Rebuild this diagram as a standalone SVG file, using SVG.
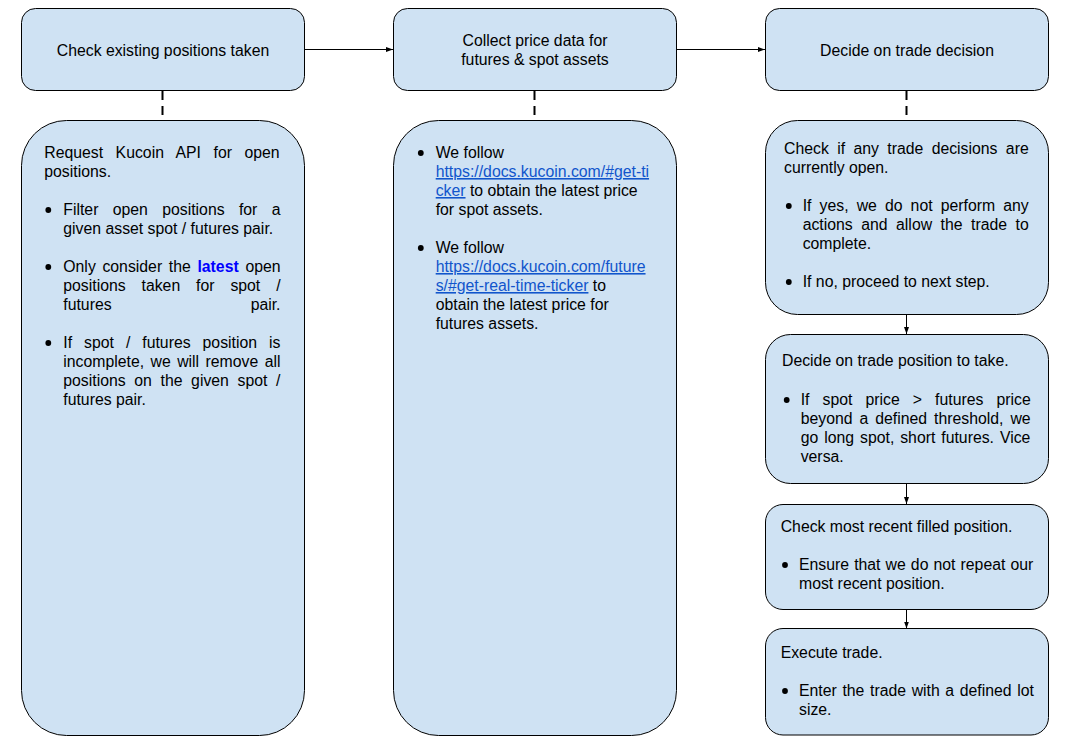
<svg xmlns="http://www.w3.org/2000/svg" width="1087" height="750" viewBox="0 0 1087 750">
<style>
.box{fill:#cfe2f3;stroke:#000;stroke-width:1}
text{font-family:"Liberation Sans",Arial,sans-serif;font-size:15.8px;fill:#000}
.c{text-anchor:middle}
.e{text-anchor:end}
.lk{fill:#1155cc;text-decoration:underline}
.b{font-weight:bold;fill:#0000ff}
.conn{stroke:#000;stroke-width:1;fill:none}
.dash{stroke:#000;stroke-width:2;stroke-dasharray:9 6;fill:none}
.bul{fill:#000}
</style>
<defs>
<marker id="ah" markerUnits="userSpaceOnUse" markerWidth="8" markerHeight="6" refX="7" refY="3" orient="auto">
<path d="M0,0.5 L7,3 L0,5.5 z" fill="#000"/>
</marker>
</defs>
<rect width="1087" height="750" fill="#fff"/>
<g id="connectors">
<line class="conn" x1="304.5" y1="49.5" x2="393" y2="49.5" marker-end="url(#ah)"/>
<line class="conn" x1="676.5" y1="49.5" x2="765" y2="49.5" marker-end="url(#ah)"/>
<line class="dash" x1="162.5" y1="91" x2="162.5" y2="120"/>
<line class="dash" x1="534.5" y1="91" x2="534.5" y2="120"/>
<line class="dash" x1="906.5" y1="91" x2="906.5" y2="120"/>
<line class="conn" x1="906.5" y1="314.5" x2="906.5" y2="334" marker-end="url(#ah)"/>
<line class="conn" x1="906.5" y1="483.5" x2="906.5" y2="504" marker-end="url(#ah)"/>
<line class="conn" x1="906.5" y1="609.5" x2="906.5" y2="628.5" marker-end="url(#ah)"/>
</g>
<g id="n-check-positions">
<rect class="box" x="21.5" y="8.5" width="283" height="82" rx="14"/>
<text class="c" x="163" y="55.5">Check existing positions taken</text>
</g>
<g id="n-collect-price">
<rect class="box" x="393.5" y="8.5" width="283" height="82" rx="14"/>
<text class="c" x="535" y="45.5">Collect price data for</text>
<text class="c" x="535" y="64.5">futures &amp; spot assets</text>
</g>
<g id="n-decide-trade">
<rect class="box" x="765.5" y="8.5" width="283" height="82" rx="14"/>
<text class="c" x="907" y="55.5">Decide on trade decision</text>
</g>
<g id="n-positions-detail">
<rect class="box" x="21.5" y="120.5" width="283" height="615" rx="45"/>
<text x="44.3" y="158" word-spacing="8.1">Request Kucoin API for open</text>
<text x="44.3" y="177">positions.</text>
<circle class="bul" cx="48.3" cy="210" r="2.9"/>
<text x="63.3" y="215" word-spacing="9.95">Filter open positions for a</text>
<text x="63.3" y="234">given asset spot / futures pair.</text>
<circle class="bul" cx="48.3" cy="267" r="2.9"/>
<text x="63.3" y="272" word-spacing="2.27">Only consider the <tspan class="b">latest</tspan> open</text>
<text x="63.3" y="291" word-spacing="11.5">positions taken for spot /</text>
<text x="63.3" y="310">futures</text>
<text class="e" x="280.5" y="310">pair.</text>
<circle class="bul" cx="48.3" cy="343" r="2.9"/>
<text x="63.3" y="348" word-spacing="7.6">If spot / futures position is</text>
<text x="63.3" y="367" word-spacing="2.05">incomplete, we will remove all</text>
<text x="63.3" y="386" word-spacing="4.26">positions on the given spot /</text>
<text x="63.3" y="405">futures pair.</text>
</g>
<g id="n-price-detail">
<rect class="box" x="393.5" y="120.5" width="283" height="615" rx="45"/>
<circle class="bul" cx="420.8" cy="153" r="2.9"/>
<text x="435.7" y="158">We follow</text>
<text x="435.7" y="177"><tspan class="lk">https://docs.kucoin.com/#get-ti</tspan></text>
<text x="435.7" y="196"><tspan class="lk">cker</tspan> to obtain the latest price</text>
<text x="435.7" y="215">for spot assets.</text>
<circle class="bul" cx="420.8" cy="248" r="2.9"/>
<text x="435.7" y="253">We follow</text>
<text x="435.7" y="272"><tspan class="lk">https://docs.kucoin.com/future</tspan></text>
<text x="435.7" y="291"><tspan class="lk">s/#get-real-time-ticker</tspan> to</text>
<text x="435.7" y="310">obtain the latest price for</text>
<text x="435.7" y="329">futures assets.</text>
</g>
<g id="n-open-check">
<rect class="box" x="765.5" y="120.5" width="283" height="194" rx="32"/>
<text x="784" y="154" word-spacing="3.98">Check if any trade decisions are</text>
<text x="784" y="173">currently open.</text>
<circle class="bul" cx="788.8" cy="206" r="2.9"/>
<text x="802.7" y="211" word-spacing="3.71">If yes, we do not perform any</text>
<text x="802.7" y="230" word-spacing="4.1">actions and allow the trade to</text>
<text x="802.7" y="249">complete.</text>
<circle class="bul" cx="788.8" cy="282" r="2.9"/>
<text x="802.7" y="287">If no, proceed to next step.</text>
</g>
<g id="n-position-decide">
<rect class="box" x="765.5" y="334.5" width="283" height="149" rx="25"/>
<text x="782" y="366">Decide on trade position to take.</text>
<circle class="bul" cx="786.7" cy="400" r="2.9"/>
<text x="800.7" y="405" word-spacing="8.68">If spot price &gt; futures price</text>
<text x="800.7" y="424" word-spacing="2.6">beyond a defined threshold, we</text>
<text x="800.7" y="443" word-spacing="1.56">go long spot, short futures. Vice</text>
<text x="800.7" y="462">versa.</text>
</g>
<g id="n-recent-check">
<rect class="box" x="765.5" y="504.5" width="283" height="105" rx="17.5"/>
<text x="780.7" y="532">Check most recent filled position.</text>
<circle class="bul" cx="785" cy="565" r="2.9"/>
<text x="799" y="570" word-spacing="0.7">Ensure that we do not repeat our</text>
<text x="799" y="589">most recent position.</text>
</g>
<g id="n-execute">
<rect class="box" x="765.5" y="628.5" width="283" height="106.5" rx="17.5"/>
<text x="780.7" y="658">Execute trade.</text>
<circle class="bul" cx="785" cy="691" r="2.9"/>
<text x="799" y="696" word-spacing="1.25">Enter the trade with a defined lot</text>
<text x="799" y="715">size.</text>
</g>
</svg>
